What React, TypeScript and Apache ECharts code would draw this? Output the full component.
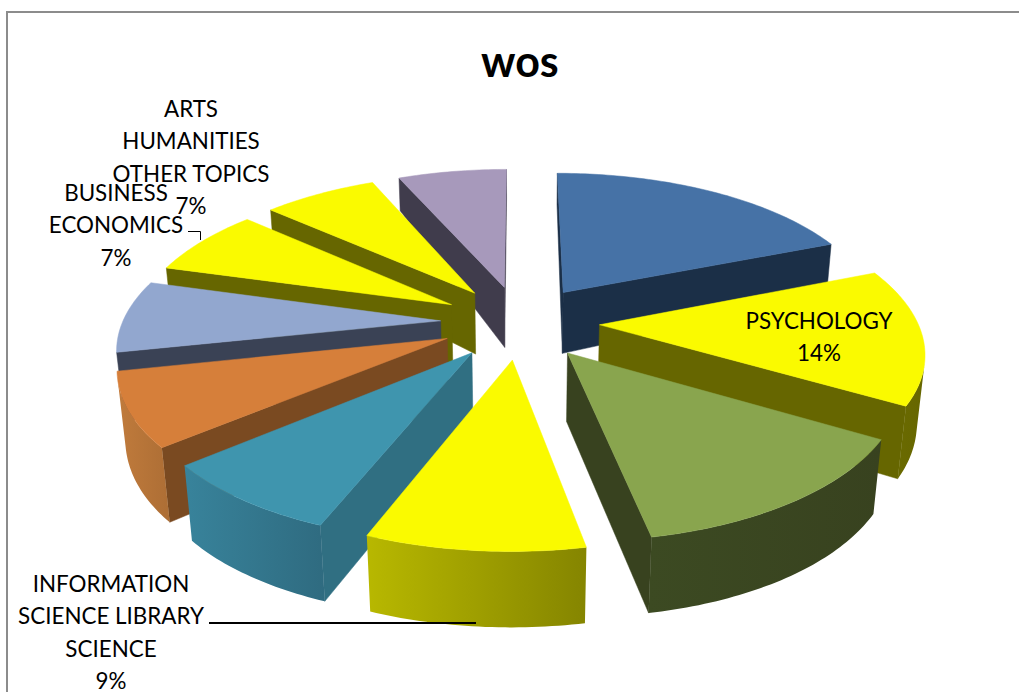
import React, { useEffect, useRef } from "react";
import * as echarts from "echarts";

// Slices clockwise from 12 o'clock; only the yellow slices carry a visible label.
const values = [18.95, 14.49, 13.5, 9.05, 7.89, 7.78, 7.7, 7.22, 6.86, 6.55];
const names = ["", "PSYCHOLOGY", "", "INFORMATION\nSCIENCE LIBRARY\nSCIENCE", "", "", "", "BUSINESS\nECONOMICS", "ARTS\nHUMANITIES\nOTHER TOPICS", ""];
const topColors = ["#4672a6", "#fafa00", "#89a54e", "#fafa00", "#3f95ae", "#d67f3a", "#92a7cf", "#fafa00", "#fafa00", "#a799bb"];
const cutColors = ["#1b2f47", "#666600", "#38421f", "#666600", "#306f82", "#7a4a21", "#3a4255", "#666600", "#666600", "#403c4c"];
const wallLeft = ["#1b2f47", "#6a6a00", "#3c4a22", "#b8b800", "#38839b", "#c07b3c", "#3a4255", "#666600", "#666600", "#403c4c"];
const wallRight = ["#1b2f47", "#666600", "#38421f", "#858500", "#2f6b80", "#ad6e35", "#3a4255", "#666600", "#666600", "#403c4c"];

// Camera model of the tilted, exploded pie
const CX = 520, CY = 322, SX = 318, SY = 147, PERSP = 0.16, CAM_Y = 5, EXPLODE = 0.25;
const project = (x: number, y: number) => {
  const w = 1 - PERSP * y;
  return [CX + (SX * x) / w, CY + (SY * y) / w];
};
const drop = (y: number) => 65 + 18.6 * y - 7.87 * y * y;
const projectBottom = (x: number, y: number) => {
  const [sx, sy] = project(x, y);
  const d = drop(y);
  return [CX + (sx - CX) * (1 - (0.022 * d) / 75), sy + d];
};
const dir = (deg: number) => {
  const r = (deg * Math.PI) / 180;
  return [Math.sin(r), -Math.cos(r)];
};

const total = values.reduce((a, b) => a + b, 0);
let running = 0;
const slices = values.map((v, i) => {
  const a0 = running;
  running += (v / total) * 360;
  const a1 = running;
  const [ex, ey] = dir((a0 + a1) / 2);
  return { i, a0, a1, ax: ex * EXPLODE, ay: ey * EXPLODE, depth: ey };
});
const order = [...slices].sort((p, q) => p.depth - q.depth);

const faceVisible = (nx: number, ny: number, px: number, py: number) =>
  nx * (0 - px) + ny * (CAM_Y - py) > 0;

function renderSlice(params: any) {
  const s = order[params.dataIndex];
  const children: any[] = [];
  const steps = Math.max(4, Math.ceil(s.a1 - s.a0));
  const arc: number[][] = [];
  for (let k = 0; k <= steps; k++) {
    const ang = s.a0 + ((s.a1 - s.a0) * k) / steps;
    const [dx, dy] = dir(ang);
    arc.push([s.ax + dx, s.ay + dy, ang]);
  }
  const cutFace = (end: number[], normalAngle: number) => {
    const [nx, ny] = dir(normalAngle);
    if (!faceVisible(nx, ny, s.ax, s.ay)) return;
    children.push({
      type: "polygon",
      shape: {
        points: [project(s.ax, s.ay), project(end[0], end[1]), projectBottom(end[0], end[1]), projectBottom(s.ax, s.ay)],
      },
      style: { fill: cutColors[s.i], stroke: cutColors[s.i], lineWidth: 0.5 },
    });
  };
  cutFace(arc[0], s.a0 - 90);
  cutFace(arc[arc.length - 1], s.a1 + 90);

  const visibleArc = arc.filter((p) => {
    const [nx, ny] = dir(p[2]);
    return faceVisible(nx, ny, p[0], p[1]);
  });
  if (visibleArc.length > 1) {
    const tops = visibleArc.map((p) => project(p[0], p[1]));
    const bottoms = visibleArc.map((p) => projectBottom(p[0], p[1])).reverse();
    children.push({
      type: "polygon",
      shape: { points: [...tops, ...bottoms] },
      style: {
        fill: new echarts.graphic.LinearGradient(0, 0, 1, 0, [
          { offset: 0, color: wallLeft[s.i] },
          { offset: 1, color: wallRight[s.i] },
        ]),
      },
    });
  }
  children.push({
    type: "polygon",
    shape: { points: [project(s.ax, s.ay), ...arc.map((p) => project(p[0], p[1]))] },
    style: { fill: topColors[s.i], stroke: topColors[s.i], lineWidth: 0.5 },
  });
  return { type: "group", children };
}

const labelFor = (i: number) => `${names[i]}\n${Math.round(values[i])}%`;
const FONT = "Lato, Carlito, sans-serif";
const labelStyle = { font: `22.4px ${FONT}`, fill: "#000", align: "center", verticalAlign: "top", lineHeight: 32.5 };

export default function App() {
  const ref = useRef<HTMLDivElement>(null);
  useEffect(() => {
    document.body.style.margin = "0";
    const chart = echarts.init(ref.current!, undefined, { renderer: "svg" });
    chart.setOption({
      animation: false,
      backgroundColor: "#fff",
      title: {
        text: "wos",
        left: 476,
        top: 34,
        textStyle: { fontFamily: FONT, fontSize: 43, fontWeight: "bold", color: "#000" },
      },
      series: [{ type: "custom", coordinateSystem: "none", silent: true, renderItem: renderSlice, data: order.map((s) => values[s.i]), z: 1 }],
      graphic: [
        { type: "polyline", z: 5, shape: { points: [[7, 692], [7, 12], [1019, 12]] }, style: { stroke: "#8c8c8c", lineWidth: 2, fill: "none" } },
        { type: "text", z: 6, x: 819, y: 304, style: { text: labelFor(1), ...labelStyle } },
        { type: "text", z: 6, x: 111, y: 567, style: { text: labelFor(3), ...labelStyle } },
        { type: "text", z: 6, x: 116, y: 176, style: { text: labelFor(7), ...labelStyle } },
        { type: "text", z: 6, x: 191, y: 92, style: { text: labelFor(8), ...labelStyle } },
        { type: "polyline", z: 6, shape: { points: [[188, 231.5], [200.5, 231.5], [200.5, 240]] }, style: { stroke: "#000", lineWidth: 1, fill: "none" } },
        { type: "line", z: 6, shape: { x1: 209, y1: 623, x2: 476, y2: 623 }, style: { stroke: "#000", lineWidth: 2 } },
      ],
    });
    return () => chart.dispose();
  }, []);
  return <div ref={ref} style={{ position: "fixed", left: 0, top: 0, width: 1019, height: 692 }} />;
}
